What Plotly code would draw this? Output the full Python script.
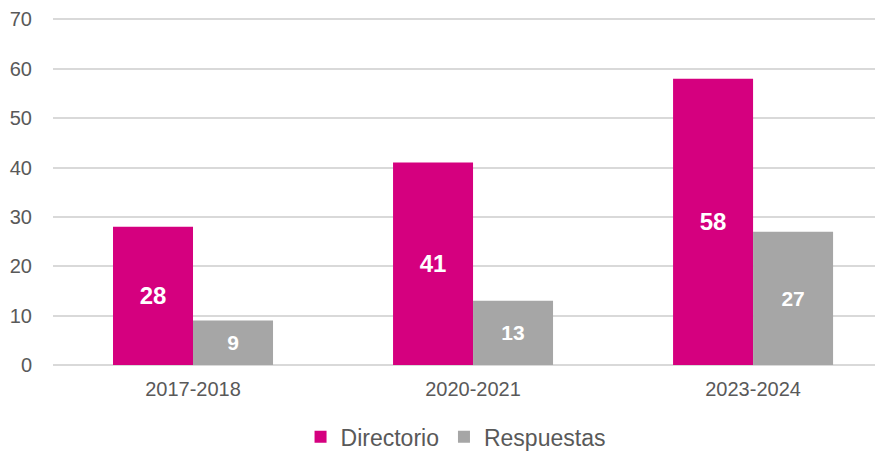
import plotly.graph_objects as go

categories = ["2017-2018", "2020-2021", "2023-2024"]
directorio = [28, 41, 58]
respuestas = [9, 13, 27]
y_ticks = [0, 10, 20, 30, 40, 50, 60, 70]

fig = go.Figure()
fig.add_trace(go.Bar(
    name="Directorio", x=categories, y=directorio,
    marker=dict(color="#D5007F", line=dict(width=0)),
    text=[str(v) for v in directorio], textposition="inside",
    insidetextanchor="middle",
    textfont=dict(family="Liberation Sans, Arial", size=24, color="white", weight="bold"),
))
fig.add_trace(go.Bar(
    name="Respuestas", x=categories, y=respuestas,
    marker=dict(color="#A6A6A6", line=dict(width=0)),
    text=[str(v) for v in respuestas], textposition="inside",
    insidetextanchor="middle",
    textfont=dict(family="Liberation Sans, Arial", size=21, color="white", weight="bold"),
))

fig.update_layout(
    width=875, height=443,
    margin=dict(l=45, r=0, t=10, b=86, autoexpand=False),
    paper_bgcolor="white", plot_bgcolor="white",
    barmode="group", bargap=0.4286, bargroupgap=0,
    font=dict(family="Liberation Sans, Arial", color="#595959", size=20),
    uniformtext=dict(mode=False),
    showlegend=True,
    legend=dict(orientation="h", x=0.485, xanchor="center", y=-0.207, yanchor="middle",
                font=dict(size=23, color="#595959"), itemwidth=30, traceorder="normal"),
    xaxis=dict(range=[-0.5, 2.464], showgrid=False, showline=False, ticks="",
               ticklabelstandoff=10, automargin=False,
               tickfont=dict(size=20, color="#595959")),
    yaxis=dict(range=[0, 70.3], tickvals=y_ticks, showgrid=True, gridcolor="#D9D9D9",
               gridwidth=1.5, zeroline=True, zerolinecolor="#D9D9D9", zerolinewidth=1.5,
               showline=False, ticks="", ticklabelstandoff=20, automargin=False,
               tickfont=dict(size=20, color="#595959")),
)

fig.write_html("out.html")
